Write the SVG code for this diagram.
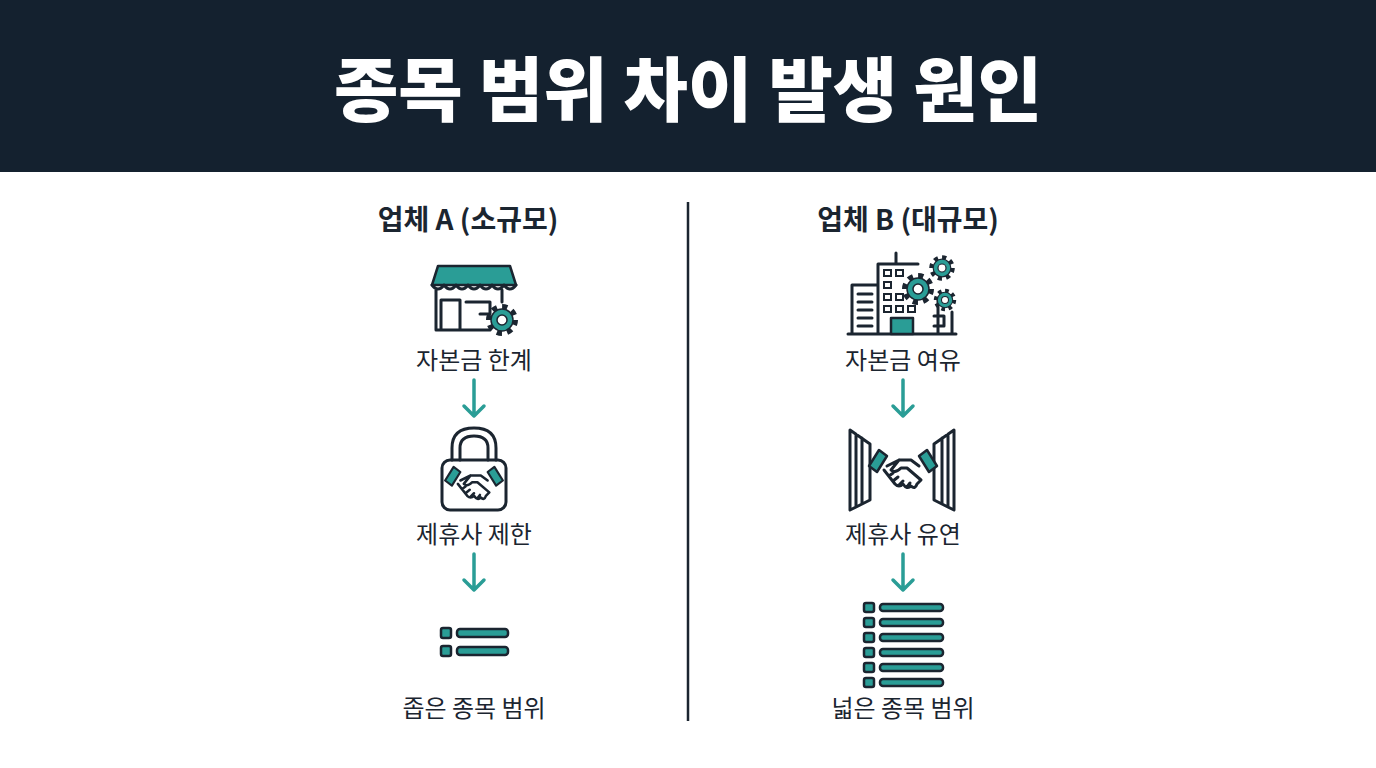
<svg xmlns="http://www.w3.org/2000/svg" width="1376" height="768" viewBox="0 0 1376 768">
<style>
.t{font-family:"Noto Sans CJK KR","Noto Sans",sans-serif;fill:#1b2530;text-anchor:middle}
.h{font-size:28px;font-weight:700}
.l{font-size:24px}
.o{fill:none;stroke:#1b2530;stroke-width:3;stroke-linejoin:round;stroke-linecap:round}
.tl{fill:#2a9d96;stroke:#1b2530;stroke-width:2.5;stroke-linejoin:round}
.ar{fill:none;stroke:#2a9d96;stroke-width:3.5;stroke-linecap:round;stroke-linejoin:round}
</style>
<defs>
<g id="gear">
<circle r="11" fill="none" stroke="#1b2530" stroke-width="10" stroke-dasharray="4.3 4.3"/>
<circle r="8" fill="none" stroke="#2a9d96" stroke-width="6"/>
<circle r="11" fill="none" stroke="#1b2530" stroke-width="1.5"/>
<circle r="5" fill="#fff" stroke="#1b2530" stroke-width="1.5"/>
</g>
<g id="hs">
<path class="tl" d="M-34,-10 L-24,-26 L-16,-20 L-26,-4 Z"/>
<path class="tl" d="M34,-10 L24,-26 L16,-20 L26,-4 Z"/>
<path class="o" d="M-16,-10 L-4,-16 L8,-16 L16,-10 M-4,-16 L-12,-6 Q-8,-2 -2,-8 L4,-8 L18,4 M-19,-6 L-8,8 Q-4,12 0,8 Q4,14 8,10 Q12,14 14,8 L18,4 M-14,0 L-10,-3 M-10,5 L-5,1 M-4,9 L0,5 M4,11 L7,7"/>
</g>
</defs>
<rect width="1376" height="172" fill="#14212f"/>
<text x="688" y="116" font-family="Noto Sans CJK KR,sans-serif" font-size="70" font-weight="900" fill="#fff" text-anchor="middle">종목 범위 차이 발생 원인</text>
<g id="connectors">
<line x1="688" y1="202" x2="688" y2="721" stroke="#1b2530" stroke-width="2.5"/>
<path class="ar" d="M474,380 V416 M464,406 L474,416 L484,406"/>
<path class="ar" d="M474,554 V590 M464,580 L474,590 L484,580"/>
<path class="ar" d="M903,380 V416 M893,406 L903,416 L913,406"/>
<path class="ar" d="M903,554 V590 M893,580 L903,590 L913,580"/>
</g>
<g id="colA">
<text class="t h" x="468" y="230">업체 A (소규모)</text>
</g>
<g id="storeA">
<path class="tl" d="M438,266 H510 L516,285 H432 Z"/>
<path class="o" d="M432,285 q6,8 12,0 q6,8 12,0 q6,8 12,0 q6,8 12,0 q6,8 12,0 q6,8 12,0 q6,8 12,0 M436,290 V330 H490 M502,290 V302 M441,330 V300 H460 V330 M466,302 H490 V314 H480"/>
<use href="#gear" x="502" y="320"/>
</g>
<text id="capA" class="t l" x="474" y="369">자본금 한계</text>
<g id="lockA">
<path class="o" d="M452,460 V448 Q452,428 474,428 Q496,428 496,448 V460 M460,460 V448 Q460,436 474,436 Q488,436 488,448 V460"/>
<rect class="o" x="442" y="460" width="64" height="50" rx="8"/>
<use href="#hs" x="474" y="489" transform="translate(474 489) scale(0.85) translate(-474 -489)"/>
</g>
<text id="parA" class="t l" x="474" y="543">제휴사 제한</text>
<g id="listA">
<rect class="tl" x="441" y="628" width="10" height="10" rx="2"/>
<rect class="tl" x="441" y="646" width="10" height="10" rx="2"/>
<rect class="tl" x="457" y="629" width="51" height="8" rx="3"/>
<rect class="tl" x="457" y="647" width="51" height="8" rx="3"/>
</g>
<text id="rangeA" class="t l" x="474" y="717">좁은 종목 범위</text>
<g id="colB">
<text class="t h" x="908" y="230">업체 B (대규모)</text>
</g>
<g id="buildingB">
<path class="o" d="M848,334 H956 M852,334 V285 H878 M878,334 V264 H918 M896,264 V253 M938,298 V334 M952,312 V334"/>
<path class="o" d="M858,294 H872 M858,302 H872 M858,310 H872 M858,318 H872 M858,326 H872 M934,316 H944 V326 H934"/>
<rect x="884" y="270" width="7" height="6" fill="none" stroke="#1b2530" stroke-width="2"/>
<rect x="896" y="270" width="7" height="6" fill="none" stroke="#1b2530" stroke-width="2"/>
<rect x="884" y="282" width="7" height="6" fill="none" stroke="#1b2530" stroke-width="2"/>
<rect x="884" y="294" width="7" height="6" fill="none" stroke="#1b2530" stroke-width="2"/>
<rect x="896" y="294" width="7" height="6" fill="none" stroke="#1b2530" stroke-width="2"/>
<rect x="884" y="306" width="7" height="6" fill="none" stroke="#1b2530" stroke-width="2"/>
<rect x="896" y="306" width="7" height="6" fill="none" stroke="#1b2530" stroke-width="2"/>
<rect x="908" y="306" width="7" height="6" fill="none" stroke="#1b2530" stroke-width="2"/>
<rect class="tl" x="891" y="318" width="22" height="16"/>
<use href="#gear" x="918" y="289"/>
<use href="#gear" x="942" y="268" transform="translate(942 268) scale(0.8) translate(-942 -268)"/>
<use href="#gear" x="945" y="300" transform="translate(945 300) scale(0.7) translate(-945 -300)"/>
</g>
<text id="capB" class="t l" x="903" y="369">자본금 여유</text>
<g id="gateB">
<path class="o" d="M850,430 L870,444 V500 L850,510 Z M856,434 V506 M862,438 V503 M954,430 L934,444 V500 L954,510 Z M948,434 V506 M942,438 V503"/>
<use href="#hs" x="0" y="0" transform="translate(903 476)"/>
</g>
<text id="parB" class="t l" x="903" y="543">제휴사 유연</text>
<g id="listB">
<rect class="tl" x="864" y="603" width="10" height="9" rx="2"/><rect class="tl" x="880" y="604" width="63" height="7" rx="3"/>
<rect class="tl" x="864" y="618" width="10" height="9" rx="2"/><rect class="tl" x="880" y="619" width="63" height="7" rx="3"/>
<rect class="tl" x="864" y="633" width="10" height="9" rx="2"/><rect class="tl" x="880" y="634" width="63" height="7" rx="3"/>
<rect class="tl" x="864" y="648" width="10" height="9" rx="2"/><rect class="tl" x="880" y="649" width="63" height="7" rx="3"/>
<rect class="tl" x="864" y="663" width="10" height="9" rx="2"/><rect class="tl" x="880" y="664" width="63" height="7" rx="3"/>
<rect class="tl" x="864" y="678" width="10" height="9" rx="2"/><rect class="tl" x="880" y="679" width="63" height="7" rx="3"/>
</g>
<text id="rangeB" class="t l" x="903" y="717">넓은 종목 범위</text>
</svg>
